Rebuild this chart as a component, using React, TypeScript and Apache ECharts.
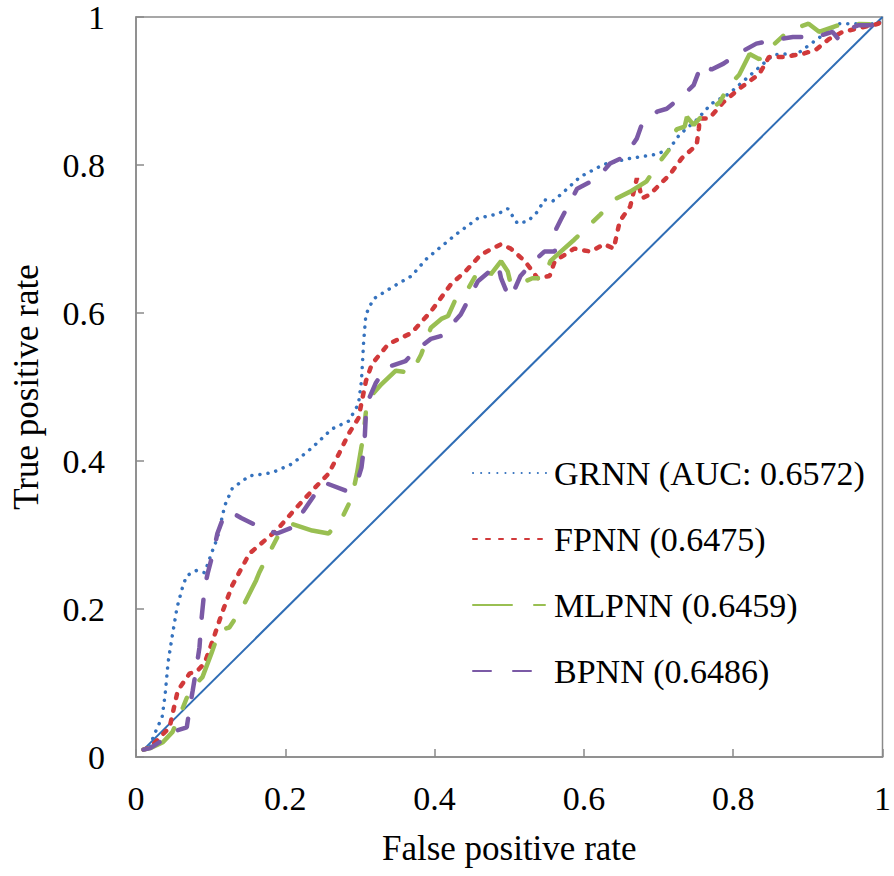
import React, { useEffect, useRef } from "react";
import * as echarts from "echarts";

const diagonal: number[][] = [[0.01, 0.01], [1, 1]];

const grnn: number[][] = [
  [0.01, 0.01], [0.019, 0.013], [0.023, 0.027], [0.035, 0.054], [0.039, 0.084], [0.043, 0.128],
  [0.048, 0.16], [0.055, 0.202], [0.063, 0.232], [0.068, 0.245], [0.081, 0.252], [0.092, 0.249],
  [0.101, 0.275], [0.109, 0.296], [0.119, 0.34], [0.129, 0.363], [0.152, 0.38], [0.182, 0.384],
  [0.209, 0.396], [0.236, 0.418], [0.262, 0.443], [0.285, 0.454], [0.298, 0.477], [0.302, 0.508],
  [0.305, 0.562], [0.308, 0.598], [0.318, 0.619], [0.345, 0.636], [0.369, 0.65], [0.389, 0.673],
  [0.409, 0.69], [0.431, 0.708], [0.458, 0.728], [0.485, 0.734], [0.498, 0.741], [0.511, 0.721],
  [0.525, 0.724], [0.538, 0.737], [0.547, 0.753], [0.558, 0.751], [0.569, 0.76], [0.595, 0.784],
  [0.627, 0.801], [0.662, 0.809], [0.695, 0.814], [0.714, 0.821], [0.728, 0.841], [0.751, 0.861],
  [0.771, 0.883], [0.794, 0.896], [0.854, 0.949], [0.871, 0.95], [0.884, 0.949], [0.907, 0.966],
  [0.941, 0.991], [0.995, 0.991], [1, 1],
];

const fpnn: number[][] = [
  [0.01, 0.01], [0.019, 0.013], [0.045, 0.04], [0.056, 0.09], [0.072, 0.113], [0.081, 0.115],
  [0.092, 0.127], [0.103, 0.158], [0.115, 0.194], [0.129, 0.232], [0.152, 0.275], [0.188, 0.306],
  [0.214, 0.336], [0.236, 0.36], [0.258, 0.383], [0.272, 0.41], [0.285, 0.437], [0.298, 0.458],
  [0.308, 0.508], [0.316, 0.531], [0.338, 0.558], [0.369, 0.573], [0.395, 0.602], [0.422, 0.639],
  [0.441, 0.656], [0.462, 0.679], [0.489, 0.693], [0.502, 0.687], [0.521, 0.67], [0.538, 0.647],
  [0.554, 0.65], [0.561, 0.67], [0.587, 0.687], [0.609, 0.683], [0.627, 0.693], [0.64, 0.687],
  [0.648, 0.724], [0.662, 0.744], [0.671, 0.782], [0.678, 0.755], [0.688, 0.76], [0.715, 0.787],
  [0.731, 0.809], [0.751, 0.827], [0.754, 0.849], [0.755, 0.863], [0.768, 0.863], [0.787, 0.885],
  [0.808, 0.903], [0.835, 0.923], [0.848, 0.946], [0.867, 0.946], [0.893, 0.95], [0.911, 0.956],
  [0.928, 0.97], [0.947, 0.98], [0.995, 0.991], [1, 1],
];

const mlpnn: number[][] = [
  [0.01, 0.01], [0.019, 0.012], [0.036, 0.02], [0.049, 0.034], [0.063, 0.067], [0.072, 0.09],
  [0.089, 0.108], [0.101, 0.14], [0.112, 0.171], [0.125, 0.175], [0.142, 0.201], [0.161, 0.239],
  [0.165, 0.249], [0.178, 0.275], [0.192, 0.302], [0.209, 0.315], [0.236, 0.306], [0.258, 0.302],
  [0.276, 0.323], [0.289, 0.35], [0.296, 0.383], [0.305, 0.437], [0.309, 0.477], [0.312, 0.485],
  [0.329, 0.504], [0.348, 0.522], [0.369, 0.519], [0.382, 0.544], [0.395, 0.58], [0.409, 0.592],
  [0.418, 0.596], [0.431, 0.625], [0.445, 0.633], [0.458, 0.656], [0.471, 0.66], [0.475, 0.652],
  [0.489, 0.67], [0.498, 0.656], [0.502, 0.639], [0.515, 0.64], [0.531, 0.647], [0.547, 0.647],
  [0.555, 0.67], [0.569, 0.683], [0.587, 0.699], [0.622, 0.733], [0.644, 0.755], [0.662, 0.764],
  [0.684, 0.778], [0.702, 0.805], [0.715, 0.822], [0.724, 0.848], [0.735, 0.852], [0.738, 0.865],
  [0.747, 0.854], [0.755, 0.863], [0.782, 0.885], [0.795, 0.908], [0.808, 0.922], [0.822, 0.95],
  [0.835, 0.943], [0.848, 0.957], [0.875, 0.982], [0.901, 0.991], [0.915, 0.98], [0.947, 0.991],
  [1, 0.99],
];

const bpnn: number[][] = [
  [0.01, 0.01], [0.019, 0.012], [0.036, 0.023], [0.055, 0.036], [0.068, 0.04], [0.072, 0.067],
  [0.076, 0.09], [0.081, 0.121], [0.085, 0.148], [0.088, 0.189], [0.092, 0.229], [0.096, 0.248],
  [0.105, 0.283], [0.109, 0.302], [0.119, 0.329], [0.129, 0.33], [0.141, 0.323], [0.169, 0.309],
  [0.189, 0.302], [0.209, 0.31], [0.222, 0.329], [0.241, 0.357], [0.252, 0.371], [0.281, 0.36],
  [0.296, 0.371], [0.302, 0.391], [0.306, 0.423], [0.308, 0.464], [0.309, 0.477], [0.321, 0.505],
  [0.334, 0.526], [0.361, 0.535], [0.374, 0.549], [0.395, 0.565], [0.409, 0.569], [0.427, 0.589],
  [0.435, 0.598], [0.449, 0.625], [0.458, 0.643], [0.485, 0.666], [0.489, 0.647], [0.498, 0.625],
  [0.502, 0.62], [0.515, 0.65], [0.529, 0.666], [0.547, 0.683], [0.561, 0.683], [0.563, 0.714],
  [0.569, 0.726], [0.582, 0.751], [0.591, 0.768], [0.618, 0.782], [0.635, 0.802], [0.654, 0.811],
  [0.671, 0.836], [0.678, 0.856], [0.698, 0.872], [0.711, 0.876], [0.734, 0.895], [0.747, 0.908],
  [0.758, 0.937], [0.771, 0.929], [0.787, 0.937], [0.804, 0.949], [0.831, 0.964], [0.854, 0.969],
  [0.88, 0.973], [0.911, 0.973], [0.933, 0.98], [0.941, 0.97], [0.951, 0.982], [0.968, 0.989],
  [0.995, 0.989], [1, 1],
];

const seriesNames = ["GRNN (AUC: 0.6572)", "FPNN (0.6475)", "MLPNN (0.6459)", "BPNN (0.6486)"];
const xAxisTitle = "False positive rate";
const yAxisTitle = "True positive rate";

const FONT = "serif";

export default function App() {
  const ref = useRef<HTMLDivElement>(null);
  useEffect(() => {
    if (!ref.current) return;
    const chart = echarts.init(ref.current, undefined, { renderer: "svg" });
    const axisCommon = {
      type: "value",
      min: 0,
      max: 1,
      interval: 0.2,
      nameLocation: "middle",
      nameTextStyle: { fontFamily: FONT, fontSize: 35, color: "#000" },
      axisLine: { show: true, lineStyle: { color: "#8a8a8a", width: 1.5 } },
      axisTick: { show: true, inside: true, length: 8, lineStyle: { color: "#8a8a8a", width: 1.5 } },
      splitLine: { show: false },
      axisLabel: { fontFamily: FONT, fontSize: 34, color: "#000" },
    };
    chart.setOption({
      animation: false,
      backgroundColor: "#fff",
      textStyle: { fontFamily: FONT },
      grid: {
        left: 136, right: 7, top: 15, bottom: 119,
        show: true, borderColor: "#8a8a8a", borderWidth: 1.5,
      },
      xAxis: {
        ...axisCommon,
        name: xAxisTitle,
        nameGap: 74,
        axisLabel: { ...axisCommon.axisLabel, margin: 24 },
      },
      yAxis: {
        ...axisCommon,
        name: yAxisTitle,
        nameGap: 92,
        axisLabel: { ...axisCommon.axisLabel, margin: 31 },
      },
      legend: {
        orient: "vertical",
        left: 467,
        top: 451,
        itemWidth: 76,
        itemHeight: 14,
        itemGap: 32,
        data: seriesNames,
        itemStyle: { opacity: 0 },
        textStyle: { fontFamily: FONT, fontSize: 34, color: "#000" },
      },
      series: [
        {
          name: "diag", type: "line", data: diagonal, showSymbol: false, silent: true,
          lineStyle: { color: "#2f6db5", width: 2 },
        },
        {
          name: seriesNames[0], type: "line", data: grnn, showSymbol: false, symbol: "none",
          itemStyle: { color: "#3572be" },
          lineStyle: { color: "#3572be", width: 3.5, type: [0.1, 8], cap: "round" },
        },
        {
          name: seriesNames[1], type: "line", data: fpnn, showSymbol: false, symbol: "none",
          itemStyle: { color: "#d1393a" },
          lineStyle: { color: "#d1393a", width: 4.5, type: [4, 9], cap: "round" },
        },
        {
          name: seriesNames[2], type: "line", data: mlpnn, showSymbol: false, symbol: "none",
          itemStyle: { color: "#99bf52" },
          lineStyle: { color: "#99bf52", width: 4.5, type: [39, 22, 11, 22], cap: "round" },
        },
        {
          name: seriesNames[3], type: "line", data: bpnn, showSymbol: false, symbol: "none",
          itemStyle: { color: "#7b5aa6" },
          lineStyle: { color: "#7b5aa6", width: 4.5, type: [18, 22], cap: "round" },
        },
      ],
    });
    return () => chart.dispose();
  }, []);
  return <div ref={ref} style={{ width: 894, height: 876, position: "absolute", left: 0, top: 0 }} />;
}
